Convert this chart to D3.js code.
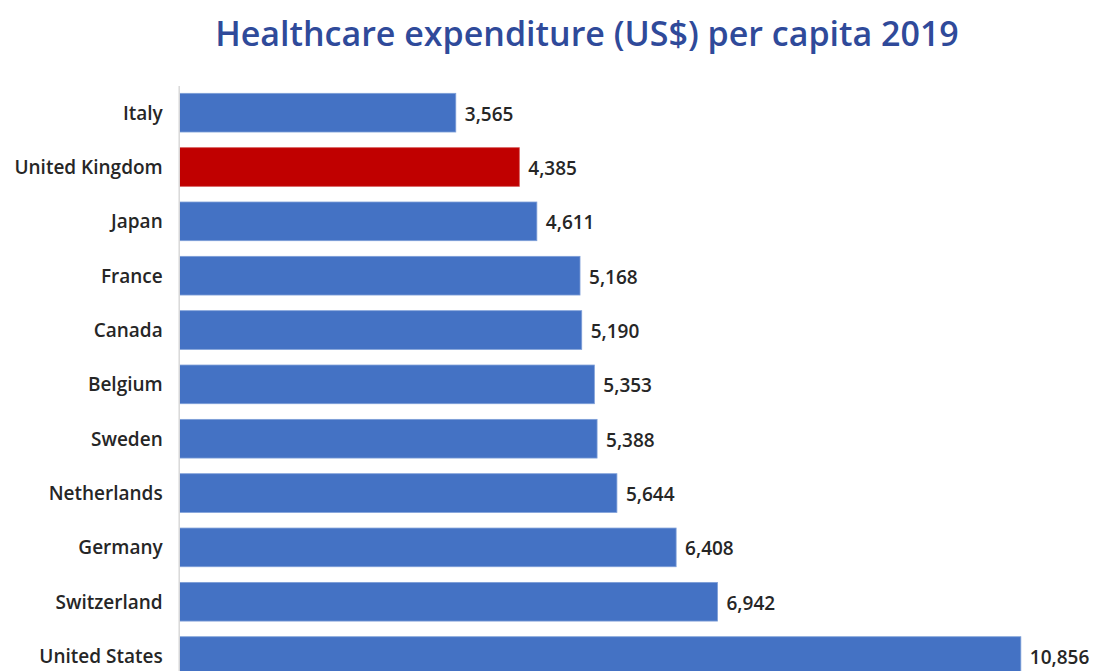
<!DOCTYPE html>
<html>
<head>
<meta charset="utf-8">
<script src="https://cdn.jsdelivr.net/npm/d3@7"></script>
<style>
  html, body { margin: 0; padding: 0; background: #ffffff; }
  svg { display: block; }
</style>
</head>
<body>
<svg id="chart" width="1094" height="671"></svg>
<script>
// Healthcare spending per head, 2019 (US$)
const countries = ["Italy", "United Kingdom", "Japan", "France", "Canada", "Belgium",
                   "Sweden", "Netherlands", "Germany", "Switzerland", "United States"];
const spending = [3565, 4385, 4611, 5168, 5190, 5353, 5388, 5644, 6408, 6942, 10856];
const highlighted = ["United Kingdom"];

const titleText = "Healthcare expenditure (US$) per capita 2019";

const rows = countries.map((c, i) => ({ country: c, value: spending[i] }));

const svg = d3.select("#chart");
const fontFamily = "'Open Sans', 'Noto Sans', sans-serif";

const x = d3.scaleLinear().domain([0, 11000]).range([179.5, 1032]);
const y = d3.scaleBand()
  .domain(countries)
  .range([85.5, 85.5 + countries.length * 54.34])
  .paddingInner(0.288)
  .paddingOuter(0.144);

// Title
svg.append("text")
  .attr("x", 587)
  .attr("y", 46)
  .attr("text-anchor", "middle")
  .attr("font-family", fontFamily)
  .attr("font-size", 34)
  .attr("font-weight", 600)
  .attr("fill", "#2F4A9A")
  .text(titleText);

// Bars
svg.append("g")
  .selectAll("rect")
  .data(rows)
  .join("rect")
  .attr("x", x(0))
  .attr("y", d => y(d.country))
  .attr("width", d => x(d.value) - x(0))
  .attr("height", y.bandwidth())
  .attr("fill", d => highlighted.includes(d.country) ? "#C00000" : "#4472C4")
  .attr("stroke", d => highlighted.includes(d.country) ? "#D65A5A" : "#7E9FD8")
  .attr("stroke-width", 0.8);

// Category axis
const yAxis = svg.append("g")
  .attr("transform", `translate(${x(0) - 0.8},0)`)
  .call(d3.axisLeft(y).tickSize(0).tickPadding(16));
yAxis.select(".domain").attr("stroke", "#D9D9D9").attr("stroke-width", 1.5);
yAxis.selectAll("text")
  .attr("font-family", fontFamily)
  .attr("font-size", 19)
  .attr("font-weight", 600)
  .attr("fill", "#262626")
  .attr("dy", "0.36em");

// Value labels
const fmt = d3.format(",");
svg.append("g")
  .selectAll("text")
  .data(rows)
  .join("text")
  .attr("x", d => x(d.value) + 9)
  .attr("y", d => y(d.country) + y.bandwidth() / 2)
  .attr("dy", "0.42em")
  .attr("font-family", fontFamily)
  .attr("font-size", 19)
  .attr("font-weight", 600)
  .attr("fill", "#262626")
  .text(d => fmt(d.value));
</script>
</body>
</html>
